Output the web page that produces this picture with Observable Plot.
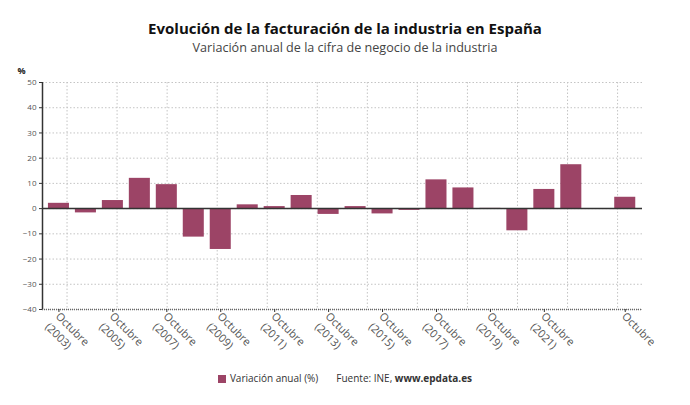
<!DOCTYPE html>
<html>
<head>
<meta charset="utf-8">
<script src="https://cdn.jsdelivr.net/npm/d3@7"></script>
<script src="https://cdn.jsdelivr.net/npm/@observablehq/plot@0.6"></script>
<style>
  body { margin: 0; background: #fff; font-family: "Open Sans", sans-serif; }
  #wrap { width: 690px; height: 405px; position: relative; }
  #title { position: absolute; top: 17px; left: 0; width: 690px; text-align: center; font-weight: bold; font-size: 15px; color: #111; line-height: 22px; }
  #subtitle { position: absolute; top: 39px; left: 0; width: 690px; text-align: center; font-size: 12.6px; color: #444; line-height: 18px; }
  #chart { position: absolute; top: 60px; left: 0; }
  #legend { position: absolute; top: 370px; left: 0; width: 690px; text-align: center; font-size: 10px; color: #333; line-height: 16px; }
  .sw { display: inline-block; width: 8px; height: 8px; background: #9c4466; margin-right: 4px; vertical-align: -0.5px; }
  .src { margin-left: 18px; }
</style>
</head>
<body>
<div id="wrap">
  <div id="title">Evolución de la facturación de la industria en España</div>
  <div id="subtitle">Variación anual de la cifra de negocio de la industria</div>
  <div id="chart"></div>
  <div id="legend"><span class="sw"></span>Variación anual (%)<span class="src">Fuente: INE, <b>www.epdata.es</b></span></div>
</div>
<script>
const years = [2003, 2004, 2005, 2006, 2007, 2008, 2009, 2010, 2011, 2012, 2013, 2014, 2015, 2016, 2017, 2018, 2019, 2020, 2021, 2022, 2023, 2024];
const values = [2.1, -1.7, 3.2, 12.0, 9.5, -11.3, -16.2, 1.5, 0.8, 5.2, -2.3, 0.8, -2.1, -0.7, 11.4, 8.2, 0.1, -8.8, 7.6, 17.4, null, 4.5];
const tickYears = [2003, 2005, 2007, 2009, 2011, 2013, 2015, 2017, 2019, 2021, 2024];
const tickLabels = ["Octubre\n(2003)", "Octubre\n(2005)", "Octubre\n(2007)", "Octubre\n(2009)", "Octubre\n(2011)", "Octubre\n(2013)", "Octubre\n(2015)", "Octubre\n(2017)", "Octubre\n(2019)", "Octubre\n(2021)", "Octubre"];
const yTicks = [-40, -30, -20, -10, 0, 10, 20, 30, 40, 50];

const data = years.map((y, i) => ({year: y, value: values[i]})).filter(d => d.value != null);
const xDomain = [2002.39, 2024.64];
const half = 0.39;
const color = "#9c4466";
const gridStep = 1.856, gridStart = 2003.30;
const vGrid = d3.range(12).map(i => gridStart + i * gridStep);

const chart = Plot.plot({
  width: 690,
  height: 300,
  marginTop: 22,
  marginBottom: 51,
  marginLeft: 42,
  marginRight: 48,
  style: {fontFamily: "Open Sans, sans-serif", color: "#555", background: "transparent"},
  x: {type: "linear", domain: xDomain},
  y: {domain: [-40, 50]},
  marks: [
    Plot.gridY(yTicks, {stroke: "#c4c4c4", strokeOpacity: 1, strokeDasharray: "1.5,2"}),
    Plot.gridX(vGrid, {stroke: "#c4c4c4", strokeOpacity: 1, strokeDasharray: "1.5,2"}),
    Plot.rectY(data, {x1: d => d.year - half, x2: d => d.year + half, y1: 0, y2: "value", fill: color}),
    Plot.ruleY([0], {stroke: "#333", strokeWidth: 1.5}),
    Plot.ruleY([-40], {stroke: "#666", strokeWidth: 1.5, strokeDasharray: "1,1"}),
    Plot.ruleX([xDomain[0]], {stroke: "#333", strokeWidth: 1.5}),
    Plot.axisY({ticks: yTicks, tickSize: 3, tickPadding: 3, fontSize: 8, label: null, stroke: "#333"}),
    Plot.axisX({ticks: tickYears, tickFormat: () => "", tickSize: 3, label: null, stroke: "#333"}),
    Plot.axisX({ticks: tickYears, tickFormat: d => tickLabels[tickYears.indexOf(d)], tickRotate: 45, tickSize: 0, tickPadding: 7, fontSize: 11, lineHeight: 1.35, label: null, fill: "#555", lineAnchor: "top", dx: 3.5, dy: -7}),
    Plot.text(["%"], {frameAnchor: "top-left", dx: -25, dy: -15, text: d => d, fontWeight: "bold", fontSize: 9, fill: "#222"})
  ]
});
document.getElementById("chart").appendChild(chart);
</script>
</body>
</html>
